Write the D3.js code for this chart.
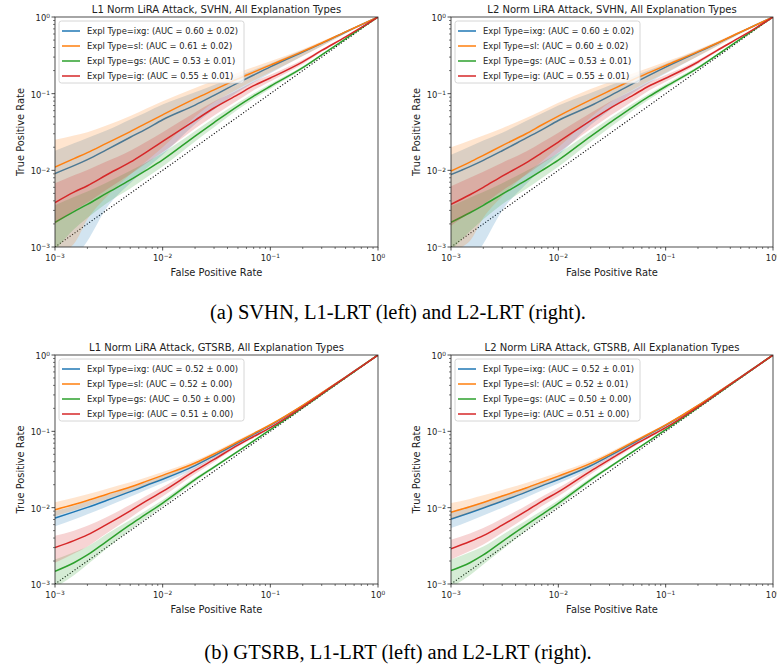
<!DOCTYPE html>
<html><head><meta charset="utf-8">
<script src="https://cdn.jsdelivr.net/npm/d3@7"></script>
<style>body{margin:0;background:#fff} svg{display:block}</style>
</head><body>
<svg id="c" width="777" height="666"></svg>
<script>
// ---------------- DATA ----------------
const fpr = [0.001, 0.0015, 0.002, 0.003, 0.005, 0.007, 0.01, 0.02, 0.03, 0.05, 0.07, 0.1, 0.2, 0.3, 0.5, 0.7, 1];
const explTypes = ["ixg", "sl", "gs", "ig"];
const titles = [
  "L1 Norm LiRA Attack, SVHN, All Explanation Types",
  "L2 Norm LiRA Attack, SVHN, All Explanation Types",
  "L1 Norm LiRA Attack, GTSRB, All Explanation Types",
  "L2 Norm LiRA Attack, GTSRB, All Explanation Types"
];
const captions = ["(a) SVHN, L1-LRT (left) and L2-LRT (right).", "(b) GTSRB, L1-LRT (left) and L2-LRT (right)."];
const tickValues = [1e-3, 1e-2, 1e-1, 1];
const tickExponents = ["\u22123", "\u22122", "\u22121", "0"];
const svhnL1_auc = ["0.60 ± 0.02", "0.61 ± 0.02", "0.53 ± 0.01", "0.55 ± 0.01"];
const svhnL2_auc = ["0.60 ± 0.02", "0.60 ± 0.02", "0.53 ± 0.01", "0.55 ± 0.01"];
const gtsrbL1_auc = ["0.52 ± 0.00", "0.52 ± 0.00", "0.50 ± 0.00", "0.51 ± 0.00"];
const gtsrbL2_auc = ["0.52 ± 0.01", "0.52 ± 0.01", "0.50 ± 0.00", "0.51 ± 0.00"];

// SVHN L1
const svhnL1_ixg    = [0.0091, 0.0115, 0.0138, 0.0185, 0.027, 0.0345, 0.0457, 0.071, 0.095, 0.138, 0.175, 0.224, 0.35, 0.453, 0.637, 0.793, 1];
const svhnL1_ixg_lo = [0.0005, 0.0007, 0.0012, 0.0032, 0.0068, 0.0105, 0.016, 0.04, 0.062, 0.105, 0.14, 0.185, 0.31, 0.42, 0.615, 0.78, 1];
const svhnL1_ixg_hi = [0.018, 0.0225, 0.0265, 0.033, 0.046, 0.057, 0.072, 0.104, 0.13, 0.17, 0.204, 0.248, 0.37, 0.47, 0.65, 0.802, 1];
const svhnL1_sl     = [0.011, 0.0142, 0.017, 0.0225, 0.032, 0.041, 0.053, 0.086, 0.112, 0.156, 0.191, 0.236, 0.356, 0.458, 0.64, 0.795, 1];
const svhnL1_sl_lo  = [0.0008, 0.0011, 0.0023, 0.0045, 0.0088, 0.013, 0.02, 0.05, 0.077, 0.115, 0.148, 0.19, 0.31, 0.415, 0.61, 0.775, 1];
const svhnL1_sl_hi  = [0.025, 0.0284, 0.0315, 0.0383, 0.0512, 0.0636, 0.0795, 0.119, 0.146, 0.187, 0.222, 0.264, 0.381, 0.481, 0.659, 0.807, 1];
const svhnL1_gs     = [0.0021, 0.0029, 0.0036, 0.005, 0.0075, 0.01, 0.0137, 0.028, 0.042, 0.069, 0.093, 0.125, 0.218, 0.32, 0.52, 0.715, 1];
const svhnL1_gs_lo  = [0.0009, 0.0017, 0.0024, 0.0037, 0.0058, 0.008, 0.0112, 0.0238, 0.0365, 0.062, 0.085, 0.116, 0.209, 0.31, 0.512, 0.71, 1];
const svhnL1_gs_hi  = [0.0035, 0.0045, 0.0053, 0.0069, 0.0099, 0.0127, 0.0168, 0.0325, 0.048, 0.076, 0.101, 0.134, 0.228, 0.33, 0.528, 0.72, 1];
const svhnL1_ig     = [0.0038, 0.0052, 0.0063, 0.0087, 0.0128, 0.0172, 0.0238, 0.045, 0.065, 0.097, 0.127, 0.16, 0.26, 0.366, 0.55, 0.73, 1];
const svhnL1_ig_lo  = [0.002, 0.003, 0.0038, 0.0056, 0.0089, 0.0123, 0.0172, 0.035, 0.052, 0.082, 0.111, 0.144, 0.244, 0.352, 0.538, 0.723, 1];
const svhnL1_ig_hi  = [0.0068, 0.0086, 0.0101, 0.013, 0.018, 0.0235, 0.0315, 0.057, 0.079, 0.112, 0.143, 0.176, 0.276, 0.38, 0.562, 0.737, 1];

// SVHN L2
const svhnL2_ixg    = [0.0088, 0.0112, 0.0135, 0.018, 0.0263, 0.0337, 0.0447, 0.0695, 0.093, 0.136, 0.173, 0.222, 0.348, 0.451, 0.635, 0.792, 1];
const svhnL2_ixg_lo = [0.0005, 0.0006, 0.0011, 0.003, 0.0066, 0.0103, 0.0157, 0.039, 0.061, 0.103, 0.138, 0.183, 0.308, 0.418, 0.613, 0.778, 1];
const svhnL2_ixg_hi = [0.016, 0.0205, 0.0245, 0.031, 0.044, 0.055, 0.07, 0.102, 0.128, 0.168, 0.202, 0.246, 0.368, 0.468, 0.648, 0.8, 1];
const svhnL2_sl     = [0.0098, 0.0128, 0.0157, 0.021, 0.03, 0.039, 0.051, 0.083, 0.109, 0.153, 0.188, 0.233, 0.353, 0.455, 0.637, 0.793, 1];
const svhnL2_sl_lo  = [0.0009, 0.0012, 0.0024, 0.0046, 0.0089, 0.013, 0.02, 0.049, 0.076, 0.113, 0.146, 0.188, 0.308, 0.413, 0.608, 0.774, 1];
const svhnL2_sl_hi  = [0.02, 0.0245, 0.0285, 0.0355, 0.048, 0.06, 0.076, 0.115, 0.142, 0.184, 0.218, 0.26, 0.378, 0.478, 0.656, 0.805, 1];
const svhnL2_gs     = [0.0021, 0.0028, 0.0035, 0.0049, 0.0074, 0.0099, 0.0136, 0.0278, 0.0415, 0.068, 0.092, 0.124, 0.217, 0.319, 0.519, 0.714, 1];
const svhnL2_gs_lo  = [0.0009, 0.0016, 0.0023, 0.0036, 0.0057, 0.0079, 0.0111, 0.0236, 0.036, 0.061, 0.084, 0.115, 0.208, 0.309, 0.511, 0.709, 1];
const svhnL2_gs_hi  = [0.0034, 0.0044, 0.0052, 0.0068, 0.0098, 0.0126, 0.0167, 0.0322, 0.0475, 0.075, 0.1, 0.133, 0.227, 0.329, 0.527, 0.719, 1];
const svhnL2_ig     = [0.0036, 0.0048, 0.006, 0.0084, 0.0125, 0.0169, 0.0234, 0.0445, 0.064, 0.096, 0.126, 0.159, 0.259, 0.365, 0.549, 0.729, 1];
const svhnL2_ig_lo  = [0.0019, 0.0028, 0.0036, 0.0054, 0.0087, 0.0121, 0.017, 0.0345, 0.051, 0.081, 0.11, 0.143, 0.243, 0.351, 0.537, 0.722, 1];
const svhnL2_ig_hi  = [0.0062, 0.008, 0.0096, 0.0126, 0.0176, 0.0231, 0.031, 0.056, 0.078, 0.111, 0.142, 0.175, 0.275, 0.379, 0.561, 0.736, 1];

// GTSRB L1
const gtsrbL1_ixg    = [0.0073, 0.0088, 0.0101, 0.0124, 0.0162, 0.0195, 0.0236, 0.0356, 0.0478, 0.0705, 0.0915, 0.12, 0.217, 0.317, 0.514, 0.71, 1];
const gtsrbL1_ixg_lo = [0.0057, 0.007, 0.0082, 0.0103, 0.0139, 0.0171, 0.021, 0.0326, 0.0446, 0.0668, 0.0875, 0.116, 0.213, 0.313, 0.51, 0.707, 1];
const gtsrbL1_ixg_hi = [0.009, 0.0106, 0.012, 0.0145, 0.0185, 0.0219, 0.0262, 0.0386, 0.051, 0.0742, 0.0955, 0.124, 0.221, 0.321, 0.518, 0.713, 1];
const gtsrbL1_sl     = [0.0094, 0.011, 0.0124, 0.0149, 0.0187, 0.0221, 0.0265, 0.0385, 0.0505, 0.073, 0.0935, 0.122, 0.219, 0.318, 0.515, 0.71, 1];
const gtsrbL1_sl_lo  = [0.0078, 0.0092, 0.0105, 0.0128, 0.0164, 0.0197, 0.024, 0.0356, 0.0473, 0.0695, 0.0895, 0.1175, 0.214, 0.314, 0.51, 0.706, 1];
const gtsrbL1_sl_hi  = [0.0118, 0.0135, 0.015, 0.0176, 0.0215, 0.0249, 0.0294, 0.0416, 0.0538, 0.0772, 0.0972, 0.1255, 0.223, 0.322, 0.52, 0.714, 1];
const gtsrbL1_gs     = [0.00147, 0.0019, 0.0024, 0.0036, 0.006, 0.0082, 0.0115, 0.0233, 0.034, 0.0547, 0.075, 0.105, 0.204, 0.305, 0.505, 0.703, 1];
const gtsrbL1_gs_lo  = [0.0009, 0.0013, 0.0018, 0.0029, 0.0051, 0.0072, 0.0104, 0.0218, 0.0325, 0.053, 0.073, 0.103, 0.202, 0.303, 0.503, 0.702, 1];
const gtsrbL1_gs_hi  = [0.0021, 0.0026, 0.0031, 0.0045, 0.0069, 0.0092, 0.0126, 0.0248, 0.0355, 0.0565, 0.077, 0.107, 0.206, 0.307, 0.507, 0.704, 1];
const gtsrbL1_ig     = [0.003, 0.0037, 0.0044, 0.006, 0.0091, 0.0122, 0.0163, 0.0305, 0.0428, 0.066, 0.0855, 0.112, 0.209, 0.31, 0.51, 0.705, 1];
const gtsrbL1_ig_lo  = [0.0019, 0.0025, 0.0031, 0.0046, 0.0074, 0.0102, 0.014, 0.0277, 0.0398, 0.0628, 0.082, 0.109, 0.206, 0.307, 0.507, 0.702, 1];
const gtsrbL1_ig_hi  = [0.0043, 0.005, 0.0058, 0.0075, 0.0109, 0.0142, 0.0186, 0.0334, 0.0458, 0.0692, 0.089, 0.115, 0.212, 0.313, 0.513, 0.708, 1];

// GTSRB L2
const gtsrbL2_ixg    = [0.0071, 0.0086, 0.0099, 0.0122, 0.016, 0.0193, 0.0234, 0.0354, 0.0476, 0.0703, 0.0913, 0.12, 0.217, 0.317, 0.514, 0.71, 1];
const gtsrbL2_ixg_lo = [0.0054, 0.0067, 0.0079, 0.01, 0.0136, 0.0168, 0.0207, 0.0323, 0.0443, 0.0665, 0.0872, 0.116, 0.213, 0.313, 0.51, 0.707, 1];
const gtsrbL2_ixg_hi = [0.0089, 0.0105, 0.0119, 0.0144, 0.0184, 0.0218, 0.0261, 0.0385, 0.0509, 0.0741, 0.0954, 0.124, 0.221, 0.321, 0.518, 0.713, 1];
const gtsrbL2_sl     = [0.0087, 0.0103, 0.0117, 0.0142, 0.0181, 0.0215, 0.0259, 0.038, 0.05, 0.0728, 0.093, 0.1215, 0.218, 0.318, 0.515, 0.71, 1];
const gtsrbL2_sl_lo  = [0.0071, 0.0086, 0.0099, 0.0122, 0.0159, 0.0192, 0.0234, 0.0351, 0.0468, 0.069, 0.089, 0.117, 0.214, 0.314, 0.51, 0.706, 1];
const gtsrbL2_sl_hi  = [0.0115, 0.013, 0.0145, 0.0171, 0.021, 0.0244, 0.0289, 0.0412, 0.0534, 0.0765, 0.0967, 0.125, 0.223, 0.322, 0.52, 0.714, 1];
const gtsrbL2_gs     = [0.0015, 0.0019, 0.0024, 0.0036, 0.0059, 0.0081, 0.0114, 0.0232, 0.034, 0.0547, 0.075, 0.105, 0.204, 0.305, 0.505, 0.703, 1];
const gtsrbL2_gs_lo  = [0.0009, 0.0013, 0.0018, 0.0028, 0.005, 0.0071, 0.0103, 0.0217, 0.0325, 0.053, 0.073, 0.103, 0.202, 0.303, 0.503, 0.702, 1];
const gtsrbL2_gs_hi  = [0.0021, 0.0026, 0.0031, 0.0044, 0.0068, 0.0091, 0.0125, 0.0247, 0.0355, 0.0565, 0.077, 0.107, 0.206, 0.307, 0.507, 0.704, 1];
const gtsrbL2_ig     = [0.0029, 0.0036, 0.0043, 0.0059, 0.009, 0.0121, 0.0161, 0.0302, 0.0425, 0.0656, 0.085, 0.1115, 0.209, 0.31, 0.51, 0.705, 1];
const gtsrbL2_ig_lo  = [0.0021, 0.0027, 0.0033, 0.0047, 0.0075, 0.0104, 0.0141, 0.0275, 0.0396, 0.0624, 0.0815, 0.1085, 0.206, 0.307, 0.507, 0.702, 1];
const gtsrbL2_ig_hi  = [0.0038, 0.0046, 0.0054, 0.0072, 0.0106, 0.0139, 0.0182, 0.0329, 0.0454, 0.0688, 0.0885, 0.1148, 0.212, 0.313, 0.513, 0.708, 1];

// ---------------- LAYOUT / STYLE ----------------
const colors = ["#1f77b4", "#ff7f0e", "#2ca02c", "#d62728"];
const panelData = [
  {auc: svhnL1_auc, mean: [svhnL1_ixg, svhnL1_sl, svhnL1_gs, svhnL1_ig], lo: [svhnL1_ixg_lo, svhnL1_sl_lo, svhnL1_gs_lo, svhnL1_ig_lo], hi: [svhnL1_ixg_hi, svhnL1_sl_hi, svhnL1_gs_hi, svhnL1_ig_hi]},
  {auc: svhnL2_auc, mean: [svhnL2_ixg, svhnL2_sl, svhnL2_gs, svhnL2_ig], lo: [svhnL2_ixg_lo, svhnL2_sl_lo, svhnL2_gs_lo, svhnL2_ig_lo], hi: [svhnL2_ixg_hi, svhnL2_sl_hi, svhnL2_gs_hi, svhnL2_ig_hi]},
  {auc: gtsrbL1_auc, mean: [gtsrbL1_ixg, gtsrbL1_sl, gtsrbL1_gs, gtsrbL1_ig], lo: [gtsrbL1_ixg_lo, gtsrbL1_sl_lo, gtsrbL1_gs_lo, gtsrbL1_ig_lo], hi: [gtsrbL1_ixg_hi, gtsrbL1_sl_hi, gtsrbL1_gs_hi, gtsrbL1_ig_hi]},
  {auc: gtsrbL2_auc, mean: [gtsrbL2_ixg, gtsrbL2_sl, gtsrbL2_gs, gtsrbL2_ig], lo: [gtsrbL2_ixg_lo, gtsrbL2_sl_lo, gtsrbL2_gs_lo, gtsrbL2_ig_lo], hi: [gtsrbL2_ixg_hi, gtsrbL2_sl_hi, gtsrbL2_gs_hi, gtsrbL2_ig_hi]}
];
const boxes = [
  {x: 55, y: 17, w: 323, h: 230},
  {x: 451, y: 17, w: 322, h: 230},
  {x: 55, y: 355, w: 323, h: 229},
  {x: 451, y: 355, w: 322, h: 229}
];
const FONT = "'DejaVu Sans', sans-serif";
const svg = d3.select("#c");

function sup(sel, base, exp) {
  sel.append("tspan").text(base);
  sel.append("tspan").attr("font-size", "0.7em").attr("dy", "-0.45em").text(exp);
}
const minors = [];
[1e-3, 1e-2, 1e-1].forEach(d => { for (let k = 2; k <= 9; k++) minors.push(d * k); });

boxes.forEach((b, pi) => {
  const pd = panelData[pi];
  const g = svg.append("g").attr("transform", `translate(${b.x},${b.y})`);
  const x = d3.scaleLog().domain([1e-3, 1]).range([0, b.w]);
  const y = d3.scaleLog().domain([1e-3, 1]).range([b.h, 0]);
  const cid = "clip" + pi;
  g.append("clipPath").attr("id", cid).append("rect").attr("width", b.w).attr("height", b.h);
  const plot = g.append("g").attr("clip-path", `url(#${cid})`);

  // chance diagonal
  plot.append("path").datum([1e-3, 1])
    .attr("d", d3.line().x(d => x(d)).y(d => y(d)))
    .attr("stroke", "#000").attr("stroke-width", 1.1).attr("stroke-dasharray", "1.1,1.9").attr("fill", "none");

  explTypes.forEach((t, si) => {
    const pts = fpr.map((f, i) => ({f, m: pd.mean[si][i], lo: pd.lo[si][i], hi: pd.hi[si][i]}));
    plot.append("path").datum(pts)
      .attr("d", d3.area().x(d => x(d.f)).y0(d => y(Math.max(d.lo, 1e-4))).y1(d => y(d.hi)).curve(d3.curveMonotoneX))
      .attr("fill", colors[si]).attr("fill-opacity", 0.2).attr("stroke", "none");
    plot.append("path").datum(pts)
      .attr("d", d3.line().x(d => x(d.f)).y(d => y(d.m)).curve(d3.curveMonotoneX))
      .attr("fill", "none").attr("stroke", colors[si]).attr("stroke-width", 1.5);
  });

  // spines
  g.append("rect").attr("width", b.w).attr("height", b.h).attr("fill", "none").attr("stroke", "#222").attr("stroke-width", 0.8);

  // ticks
  const tk = g.append("g").attr("stroke", "#222");
  tickValues.forEach(v => {
    tk.append("line").attr("x1", x(v)).attr("x2", x(v)).attr("y1", b.h).attr("y2", b.h + 3.5).attr("stroke-width", 0.8);
    tk.append("line").attr("y1", y(v)).attr("y2", y(v)).attr("x1", 0).attr("x2", -3.5).attr("stroke-width", 0.8);
  });
  minors.forEach(v => {
    tk.append("line").attr("x1", x(v)).attr("x2", x(v)).attr("y1", b.h).attr("y2", b.h + 2).attr("stroke-width", 0.6);
    tk.append("line").attr("y1", y(v)).attr("y2", y(v)).attr("x1", 0).attr("x2", -2).attr("stroke-width", 0.6);
  });
  tickValues.forEach((v, i) => {
    const tx = g.append("text").attr("x", x(v)).attr("y", b.h + 13.5).attr("text-anchor", "middle")
      .attr("font-family", FONT).attr("font-size", 8.4).attr("fill", "#222");
    sup(tx, "10", tickExponents[i]);
    const ty = g.append("text").attr("x", -5).attr("y", y(v) + 4).attr("text-anchor", "end")
      .attr("font-family", FONT).attr("font-size", 8.4).attr("fill", "#222");
    sup(ty, "10", tickExponents[i]);
  });

  // title / axis labels
  g.append("text").attr("x", b.w / 2).attr("y", -4).attr("text-anchor", "middle")
    .attr("font-family", FONT).attr("font-size", 10).attr("fill", "#222").text(titles[pi]);
  g.append("text").attr("x", b.w / 2).attr("y", b.h + 28.5).attr("text-anchor", "middle")
    .attr("font-family", FONT).attr("font-size", 9.9).attr("fill", "#222").text("False Positive Rate");
  g.append("text").attr("transform", `translate(-31.5,${b.h / 2}) rotate(-90)`).attr("text-anchor", "middle")
    .attr("font-family", FONT).attr("font-size", 9.9).attr("fill", "#222").text("True Positive Rate");

  // legend
  const lg = g.append("g").attr("transform", "translate(4,4)");
  lg.append("rect").attr("width", 185).attr("height", 62).attr("rx", 2.5)
    .attr("fill", "#fff").attr("fill-opacity", 0.8).attr("stroke", "#cccccc").attr("stroke-width", 0.8);
  explTypes.forEach((t, si) => {
    const yy = 10 + si * 15;
    lg.append("line").attr("x1", 3).attr("x2", 21).attr("y1", yy).attr("y2", yy)
      .attr("stroke", colors[si]).attr("stroke-width", 1.5);
    lg.append("text").attr("x", 28).attr("y", yy + 3).attr("font-family", FONT).attr("font-size", 8.4)
      .attr("fill", "#222").text(`Expl Type=${t}: (AUC = ${pd.auc[si]})`);
  });
});

// captions
svg.append("text").attr("x", 398).attr("y", 319).attr("text-anchor", "middle")
  .attr("font-family", "'Liberation Serif', 'Times New Roman', serif").attr("font-size", 20.5).attr("fill", "#000").text(captions[0]);
svg.append("text").attr("x", 398).attr("y", 659).attr("text-anchor", "middle")
  .attr("font-family", "'Liberation Serif', 'Times New Roman', serif").attr("font-size", 20.5).attr("fill", "#000").text(captions[1]);
</script>
</body></html>
